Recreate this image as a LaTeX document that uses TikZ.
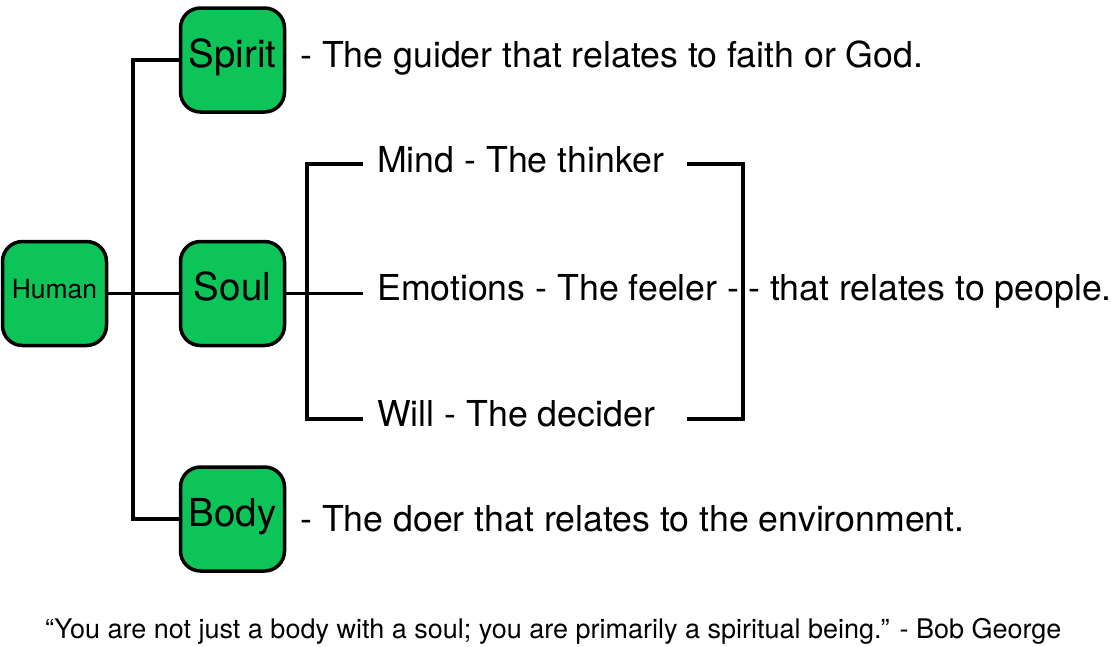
\documentclass[tikz,border=0pt]{standalone}
\usepackage{fontspec}
\setmainfont{TeX Gyre Heros}
\definecolor{boxgreen}{RGB}{12,196,88}
\begin{document}
\begin{tikzpicture}[x=1pt,y=-1pt,
  greenbox/.style={draw=black, line width=3.5pt, fill=boxgreen, rounded corners=20pt,
    minimum width=104pt, minimum height=104pt, inner sep=0pt,
    font=\fontsize{38.5}{44}\selectfont, text height=28pt, text depth=14pt},
  smallbox/.style={greenbox, font=\fontsize{26.5}{30}\selectfont, text height=19pt, text depth=10pt},
  desc/.style={anchor=base west, inner sep=0pt, font=\fontsize{35.7}{42}\selectfont},
  quotetext/.style={anchor=base west, inner sep=0pt, font=\fontsize{27}{32}\selectfont},
  conn/.style={line width=3.5pt, line join=miter}]
\useasboundingbox (0,0) rectangle (1111,646);
% boxes
\node[smallbox] (human) at (54.5,293.5) {Human};
\node[greenbox] (spirit) at (232.5,60) {Spirit};
\node[greenbox] (soul) at (232.5,293.5) {Soul};
\node[greenbox] (body) at (232.5,519) {Body};
% descriptions
\node[desc] (spiritd) at (300,67) {- The guider that relates to faith or God.};
\node[desc] (mind) at (377,172) {Mind - The thinker};
\node[desc] (emo) at (377,300) {Emotions - The feeler -};
\node[desc] (people) at (748,300) {- that relates to people.};
\node[desc] (will) at (377,426) {Will - The decider};
\node[desc] (bodyd) at (300,531) {- The doer that relates to the environment.};
\node[quotetext] (quote) at (45,638) {“You are not just a body with a soul; you are primarily a spiritual being.” - Bob George};
% coordinates
\coordinate (tk) at (133,0);
\coordinate (st) at (307,0);
\coordinate (m1) at (363,164);
\coordinate (e1) at (363,293.5);
\coordinate (w1) at (363,419);
\coordinate (m2) at (687,164);
\coordinate (w2) at (687,419);
\coordinate (br) at (743,0);
% connectors
\draw[conn] (human.east) -- (soul.west);
\draw[conn] (spirit.west) -- (tk |- spirit.west) -- (tk |- body.west) -- (body.west);
\draw[conn] (soul.east) -- (e1);
\draw[conn] (m1) -- (st |- m1) -- (st |- w1) -- (w1);
\draw[conn] (m2) -- (br |- m2) -- (br |- w2) -- (w2);
\end{tikzpicture}
\end{document}
